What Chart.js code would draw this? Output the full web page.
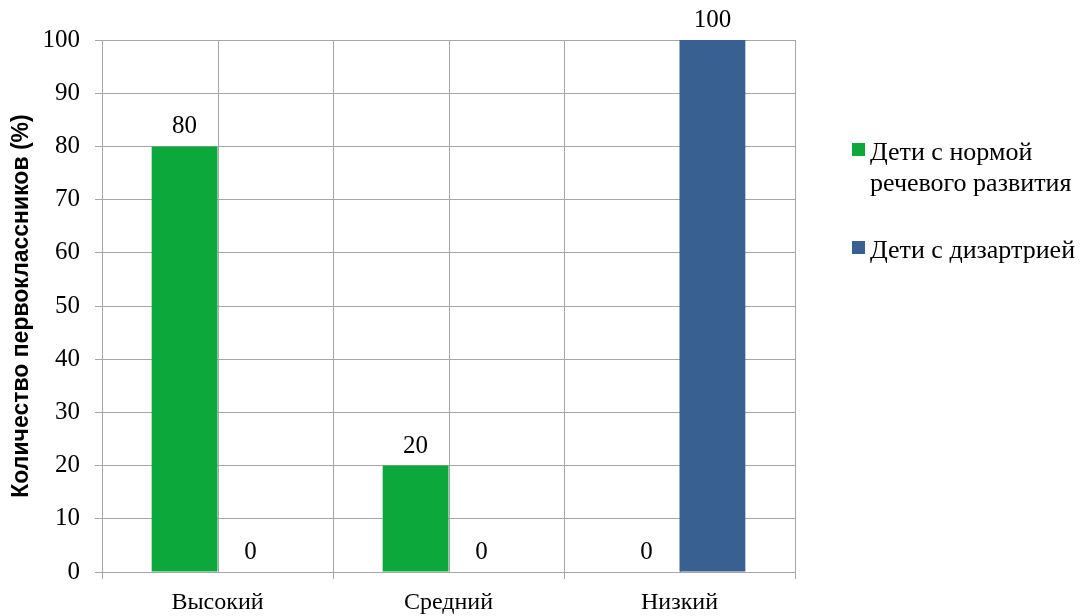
<!DOCTYPE html>
<html lang="ru">
<head>
<meta charset="utf-8">
<title>Уровень речевого развития первоклассников</title>
<script src="https://cdn.jsdelivr.net/npm/chart.js@4"></script>
<style>
  html, body { margin: 0; padding: 0; background: #ffffff; }
  #wrap { position: relative; width: 1083px; height: 616px; }
  #chart { position: absolute; left: 0; top: 0; }
  .legend { position: absolute; left: 852px; top: 0; font-family: "Liberation Serif", "Times New Roman", serif; font-size: 26px; line-height: 31px; color: #000; }
  .legend .sw { position: absolute; left: 0; width: 13px; height: 13px; }
  .legend .tx { position: absolute; left: 18px; white-space: nowrap; }
</style>
</head>
<body>
<div id="wrap">
  <canvas id="chart" width="1083" height="616"></canvas>
  <div class="legend" id="legend"></div>
</div>
<script>
const categories = ['Высокий', 'Средний', 'Низкий'];
const seriesNames = [['Дети с нормой', 'речевого развития'], ['Дети с дизартрией']];
const normalSpeech = [80, 20, 0];
const dysarthria = [0, 0, 100];
const yTicks = [0, 10, 20, 30, 40, 50, 60, 70, 80, 90, 100];
const yTitle = 'Количество первоклассников (%)';
const colors = ['#0DA83C', '#386192'];

const serif = '"Liberation Serif", "Times New Roman", serif';
const gridColor = '#a6a6a6';

// vertical lines through the middle of every category
const centerLines = {
  id: 'centerLines',
  beforeDatasetsDraw(chart) {
    const { ctx, chartArea, scales } = chart;
    ctx.save();
    ctx.strokeStyle = gridColor;
    ctx.lineWidth = 1;
    categories.forEach((c, i) => {
      const x = Math.round(scales.x.getPixelForValue(i)) + 0.5;
      ctx.beginPath();
      ctx.moveTo(x, chartArea.top);
      ctx.lineTo(x, chartArea.bottom);
      ctx.stroke();
    });
    ctx.restore();
  }
};

// value printed above each bar
const valueLabels = {
  id: 'valueLabels',
  afterDatasetsDraw(chart) {
    const { ctx } = chart;
    ctx.save();
    ctx.font = '25px ' + serif;
    ctx.fillStyle = '#000';
    ctx.textAlign = 'center';
    ctx.textBaseline = 'alphabetic';
    chart.data.datasets.forEach((ds, di) => {
      chart.getDatasetMeta(di).data.forEach((bar, i) => {
        ctx.fillText(String(ds.data[i]), bar.x, bar.y - 13);
      });
    });
    ctx.restore();
  }
};

new Chart(document.getElementById('chart'), {
  type: 'bar',
  data: {
    labels: categories,
    datasets: [
      { label: seriesNames[0].join(' '), data: normalSpeech, backgroundColor: colors[0], borderWidth: 0 },
      { label: seriesNames[1].join(' '), data: dysarthria, backgroundColor: colors[1], borderWidth: 0 }
    ]
  },
  options: {
    responsive: false,
    animation: false,
    devicePixelRatio: 1,
    layout: { padding: { left: 0, right: 288, top: 40, bottom: 0 } },
    datasets: { bar: { categoryPercentage: 0.57, barPercentage: 1.0 } },
    plugins: { legend: { display: false }, tooltip: { enabled: false } },
    scales: {
      x: {
        afterFit(s) { s.height = 44; },
        grid: { offset: true, color: gridColor, tickLength: 7, drawOnChartArea: true },
        border: { color: gridColor },
        ticks: { font: { family: serif, size: 24 }, color: '#000', padding: 9 }
      },
      y: {
        min: 0,
        max: 100,
        afterFit(s) { s.width = 102; },
        afterBuildTicks(s) { s.ticks = yTicks.map(v => ({ value: v })); },
        grid: { color: gridColor, tickLength: 7 },
        border: { color: gridColor },
        ticks: { font: { family: serif, size: 25 }, color: '#000', padding: 15 },
        title: {
          display: true,
          text: yTitle,
          color: '#000',
          font: { family: '"Liberation Sans", Arial, sans-serif', size: 23, weight: 'bold' },
          padding: { top: 8, bottom: 0 }
        }
      }
    }
  },
  plugins: [centerLines, valueLabels]
});

// legend on the right
const legend = document.getElementById('legend');
const tops = [136, 234];
seriesNames.forEach((lines, i) => {
  const sw = document.createElement('div');
  sw.className = 'sw';
  sw.style.background = colors[i];
  sw.style.top = (tops[i] + 7) + 'px';
  legend.appendChild(sw);
  const tx = document.createElement('div');
  tx.className = 'tx';
  tx.style.top = tops[i] + 'px';
  tx.innerHTML = lines.join('<br>');
  legend.appendChild(tx);
});
</script>
</body>
</html>
